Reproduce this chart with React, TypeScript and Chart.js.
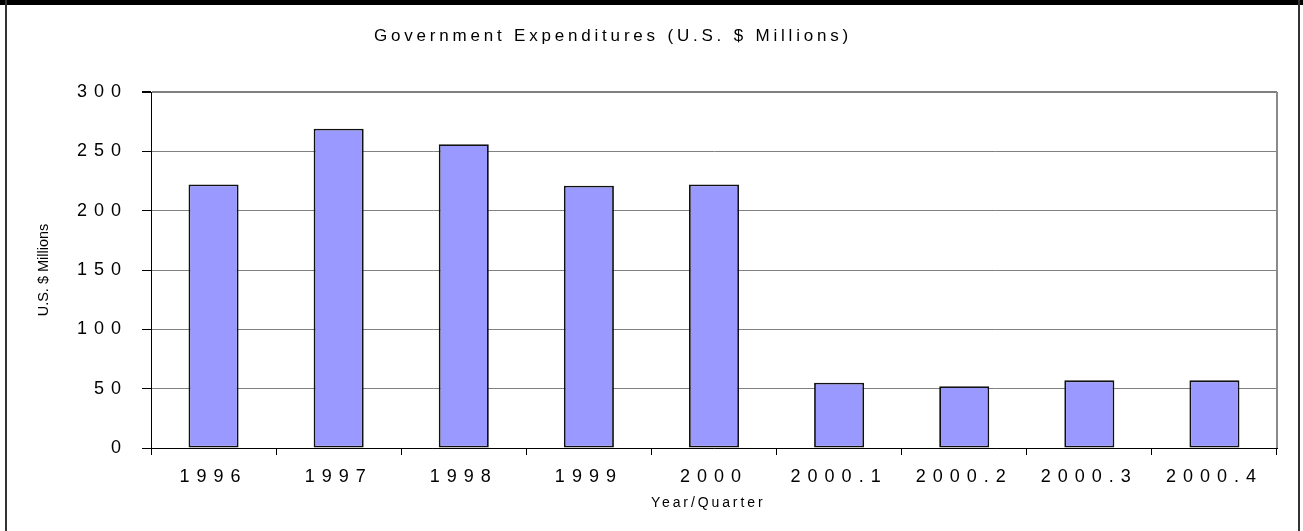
import React, { useEffect, useRef } from 'react';
import { Chart, registerables } from 'chart.js';

Chart.register(...registerables);

const categories = ['1996', '1997', '1998', '1999', '2000', '2000.1', '2000.2', '2000.3', '2000.4'];
const expenditures = [222, 269, 256, 221, 222, 55, 52, 57, 57];
const yTickValues = [0, 50, 100, 150, 200, 250, 300];
const chartTitle = 'Government Expenditures (U.S. $ Millions)';
const xAxisTitle = 'Year/Quarter';
const yAxisTitle = 'U.S. $ Millions';
const seriesLabel = 'Government Expenditures';

const FONT = '"Liberation Sans", Arial, Helvetica, sans-serif';

const spacedTextPlugin = {
  id: 'spacedText',
  beforeUpdate(chart: any) {
    chart.ctx.letterSpacing = '7px';
  },
  beforeDraw(chart: any) {
    chart.ctx.letterSpacing = '7px';
  },
  afterDraw(chart: any) {
    const ctx = chart.ctx as CanvasRenderingContext2D & { letterSpacing: string };
    const area = chart.chartArea;
    ctx.save();
    ctx.fillStyle = '#000';
    // chart title
    ctx.letterSpacing = '3.8px';
    ctx.font = `17px ${FONT}`;
    ctx.textAlign = 'left';
    ctx.textBaseline = 'middle';
    ctx.fillText(chartTitle, 374, 36);
    // x axis title
    ctx.letterSpacing = '2.9px';
    ctx.font = `14px ${FONT}`;
    ctx.textAlign = 'left';
    ctx.fillText(xAxisTitle, 651, 503);
    // y axis title
    ctx.letterSpacing = '0px';
    ctx.font = `14.5px ${FONT}`;
    ctx.translate(44, (area.top + area.bottom) / 2);
    ctx.rotate(-Math.PI / 2);
    ctx.textAlign = 'center';
    ctx.fillText(yAxisTitle, 0, 0);
    ctx.restore();
    ctx.letterSpacing = '7px';
  },
  afterDatasetsDraw(chart: any) {
    // plot-area frame on the right (Excel style)
    const ctx = chart.ctx;
    const area = chart.chartArea;
    ctx.save();
    ctx.strokeStyle = '#8a8a8a';
    ctx.lineWidth = 2;
    ctx.beginPath();
    ctx.moveTo(area.right, area.top);
    ctx.lineTo(area.right, area.bottom);
    ctx.stroke();
    ctx.restore();
  },
};

export default function App() {
  const canvasRef = useRef<HTMLCanvasElement>(null);

  useEffect(() => {
    if (!canvasRef.current) return;
    const chart = new Chart(canvasRef.current, {
      type: 'bar',
      data: {
        labels: categories,
        datasets: [
          {
            label: seriesLabel,
            data: expenditures,
            backgroundColor: '#9999FF',
            borderColor: '#111',
            borderWidth: 1.8,
            borderSkipped: false,
            barPercentage: 0.4,
            categoryPercentage: 1,
          },
        ],
      },
      options: {
        animation: false,
        responsive: false,
        devicePixelRatio: 1,
        layout: { padding: { left: 0, right: 26, top: 92, bottom: 0 } },
        plugins: {
          legend: { display: false },
          title: { display: false },
          tooltip: { enabled: false },
        },
        scales: {
          x: {
            grid: {
              offset: true,
              drawOnChartArea: false,
              tickColor: '#000',
              tickLength: 7,
            },
            border: { color: '#000', width: 1 },
            ticks: {
              color: '#000',
              font: { family: FONT, size: 18 },
              padding: 11,
              maxRotation: 0,
              autoSkip: false,
            },
            afterFit: (s: any) => {
              s.height = 83;
            },
          },
          y: {
            min: yTickValues[0],
            max: yTickValues[yTickValues.length - 1],
            ticks: {
              stepSize: yTickValues[1] - yTickValues[0],
              color: '#000',
              font: { family: FONT, size: 18 },
              padding: 14,
            },
            grid: {
              color: '#808080',
              tickColor: '#000',
              tickLength: 9,
              lineWidth: (c: any) => (c.tick && c.tick.value === yTickValues[yTickValues.length - 1] ? 2 : 1),
            },
            border: { color: '#000', width: 1 },
            afterFit: (s: any) => {
              s.width = 151;
            },
          },
        },
      },
      plugins: [spacedTextPlugin],
    });
    return () => chart.destroy();
  }, []);

  return (
    <div style={{ position: 'absolute', left: 0, top: 0, width: 1303, height: 531, background: '#fff', overflow: 'hidden' }}>
      <canvas ref={canvasRef} width={1303} height={531} style={{ position: 'absolute', left: 0, top: 0, width: 1303, height: 531 }} />
      <div style={{ position: 'absolute', left: 0, top: 0, width: 1303, height: 5, background: '#000' }} />
      <div style={{ position: 'absolute', left: 5, top: 0, width: 2, height: 531, background: '#333' }} />
      <div style={{ position: 'absolute', left: 1298, top: 0, width: 2, height: 531, background: '#333' }} />
    </div>
  );
}
